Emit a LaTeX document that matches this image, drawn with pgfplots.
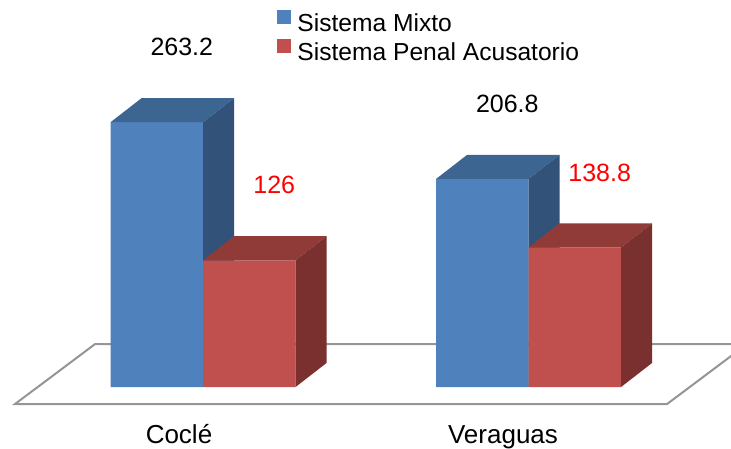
\documentclass[border=0pt]{standalone}
\usepackage{pgfplots}
\pgfplotsset{compat=1.18}
\usepackage{pgfplotstable}
\usepackage{fontspec}
\setmainfont{Liberation Sans}
\definecolor{bfront}{HTML}{4F81BD}
\definecolor{btop}{HTML}{3D6592}
\definecolor{bside}{HTML}{32527A}
\definecolor{rfront}{HTML}{C0504D}
\definecolor{rtop}{HTML}{913B39}
\definecolor{rside}{HTML}{7A302F}
\definecolor{floorline}{HTML}{959595}
\definecolor{lblred}{HTML}{FF0000}

\pgfplotsset{sqlegend/.style={legend image code/.code={\fill[##1] (0pt,0pt) rectangle (7pt,7pt); \path (10pt,0pt);}}}

% x = group centre (px units), values of the two series
\pgfplotstableread{
x mixto penal
203 263.2 126
528.5 206.8 138.8
}\datatable

\begin{document}
\begin{tikzpicture}
\begin{axis}[
  name=ax,
  scale only axis, width=365.5pt, height=224pt,
  xmin=0, xmax=731, ymin=-60.6, ymax=384.7,
  axis line style={draw=none},
  ytick=\empty,
  xtick={179,503}, xticklabels={Coclé,Veraguas},
  major tick length=0pt,
  xticklabel style={anchor=base, yshift=2.5pt, inner sep=0pt, font=\fontsize{13}{15}\selectfont},
  /pgf/number format/assume math mode=true,
  legend style={at={(0.379,0.978)}, anchor=north west, draw=none, fill=none,
    inner sep=0pt, nodes={inner sep=0pt}, row sep=2pt,
    font=\fontsize{12.3}{14}\selectfont},
  legend cell align=left,
]
% floor
\addplot[fill=white, draw=floorline, line width=1pt, forget plot]
  coordinates {(15,-16.9) (95,42.7) (747,42.7) (667,-16.9)} -- cycle;

% Sistema Mixto front faces
\addplot[ybar, bar width=92.5, bar shift=-46.25, fill=bfront, draw=none, sqlegend,
  nodes near coords,
  every node near coord/.append style={anchor=center, xshift=-10.6pt, yshift=37.5pt,
    font=\fontsize{12.5}{15}\selectfont, text=black}]
  table[x=x, y=mixto]{\datatable};
\addlegendentry{Sistema Mixto}
% tops and sides (Mixto)
\addplot[fill=btop, draw=none, forget plot] coordinates {(110.5,263.2) (141.5,287.1) (234,287.1) (203,263.2)} -- cycle;
\addplot[fill=bside, draw=none, forget plot] coordinates {(203,0) (234,23.9) (234,287.1) (203,263.2)} -- cycle;
\addplot[fill=btop, draw=none, forget plot] coordinates {(436,206.8) (467,230.7) (559.5,230.7) (528.5,206.8)} -- cycle;
\addplot[fill=bside, draw=none, forget plot] coordinates {(528.5,0) (559.5,23.9) (559.5,230.7) (528.5,206.8)} -- cycle;

% Sistema Penal Acusatorio front faces
\addplot[ybar, bar width=92.5, bar shift=46.25, fill=rfront, draw=none, sqlegend,
  nodes near coords,
  every node near coord/.append style={anchor=center, xshift=35.6pt, yshift=37.5pt,
    font=\fontsize{12.5}{15}\selectfont, text=lblred}]
  table[x=x, y=penal]{\datatable};
\addlegendentry{Sistema Penal Acusatorio}
\addplot[fill=rtop, draw=none, forget plot] coordinates {(203,126) (234,149.9) (326.5,149.9) (295.5,126)} -- cycle;
\addplot[fill=rside, draw=none, forget plot] coordinates {(295.5,0) (326.5,23.9) (326.5,149.9) (295.5,126)} -- cycle;
\addplot[fill=rtop, draw=none, forget plot] coordinates {(528.5,138.8) (559.5,162.7) (652,162.7) (621,138.8)} -- cycle;
\addplot[fill=rside, draw=none, forget plot] coordinates {(621,0) (652,23.9) (652,162.7) (621,138.8)} -- cycle;
\end{axis}
\pgfresetboundingbox
\path (ax.south west) rectangle (ax.north east);
\end{tikzpicture}
\end{document}
